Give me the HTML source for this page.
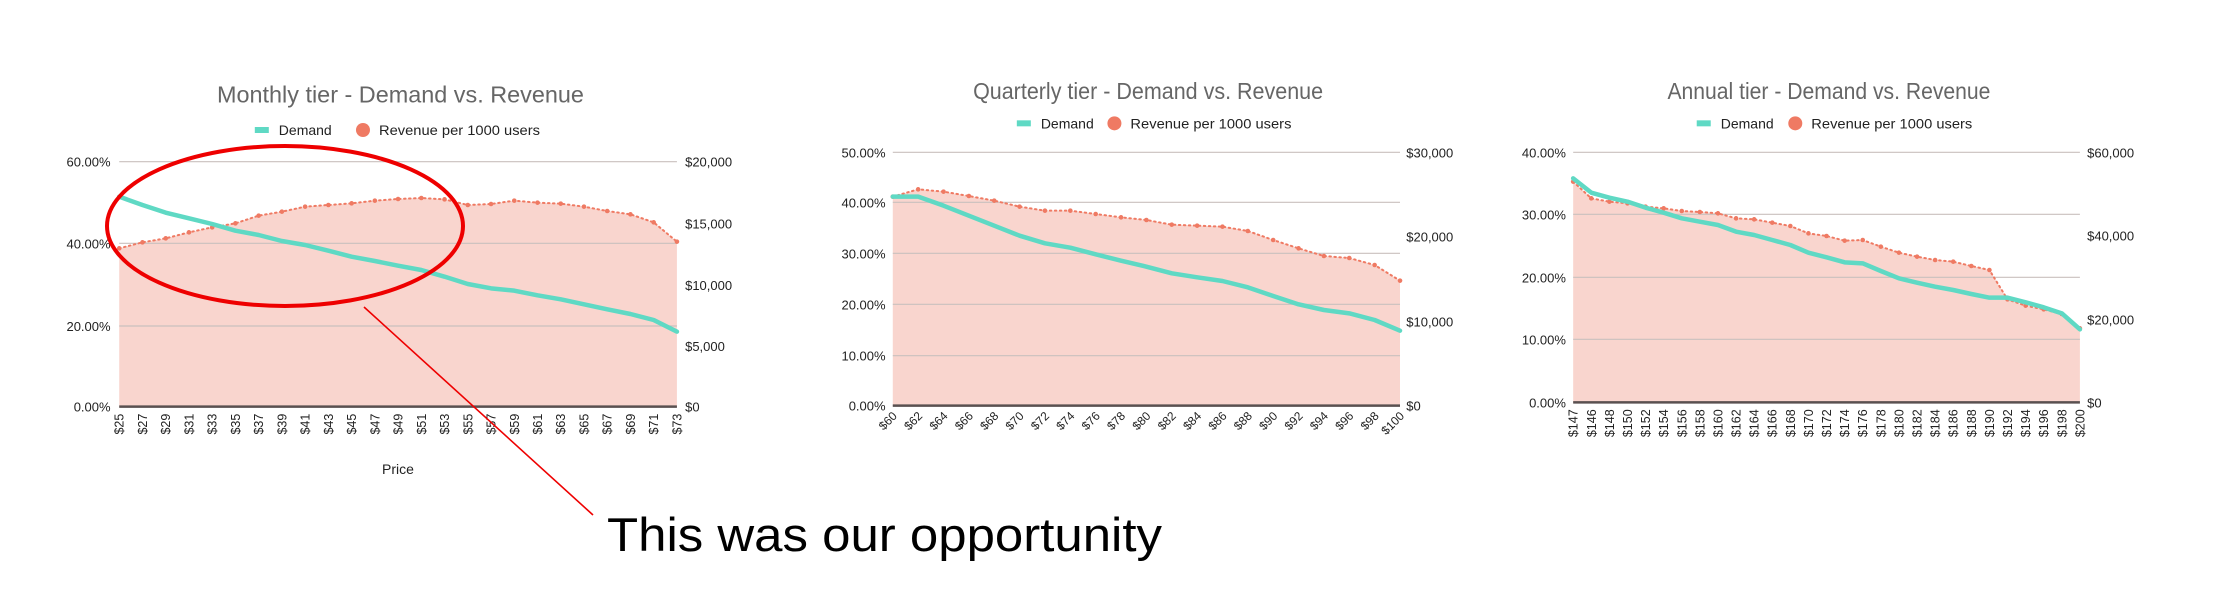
<!DOCTYPE html>
<html><head><meta charset="utf-8"><style>
html,body{margin:0;padding:0;background:#fff;}
svg{display:block;font-family:"Liberation Sans",sans-serif;}
</style></head><body>
<svg id="s" width="2240" height="614" viewBox="0 0 2240 614" xmlns="http://www.w3.org/2000/svg">
<text x="607" y="551" font-size="47" fill="#000" textLength="555" lengthAdjust="spacingAndGlyphs">This was our opportunity</text>
</svg>
<script>
var NS="http://www.w3.org/2000/svg",S=document.getElementById('s');
function el(t,a,txt){var e=document.createElementNS(NS,t);for(var k in a)e.setAttribute(k,a[k]);if(txt!==undefined)e.textContent=txt;S.appendChild(e);return e;}
function chart(c){
  var ox=c.ox,oy=60,X=function(zx){return ox+zx/2.08;},Y=function(zy){return oy+zy/3;};
  var L=X(c.zl),R=X(c.zr),n=c.labels.length;
  var xs=[];for(var i=0;i<n;i++)xs.push(L+(R-L)*i/(n-1));
  // fill
  var d='M'+L+','+Y(c.zb);for(i=0;i<n;i++)d+=' L'+xs[i]+','+Y(c.rev[i]);d+=' L'+R+','+Y(c.zb)+' Z';
  el('path',{d:d,fill:'#f9d5ce'});
  // grid
  c.grid.forEach(function(g){el('line',{x1:L,x2:R,y1:Y(g[0]),y2:Y(g[0]),stroke:'#c9c0be','stroke-width':1.2});
    el('text',{x:X(c.zll),y:Y(g[0])+5,'font-size':13,fill:'#222','text-anchor':'end'},g[1]);});
  c.rgrid.forEach(function(g){el('text',{x:X(c.zrl),y:Y(g[0])+5,'font-size':13,fill:'#222'},g[1]);});
  el('line',{x1:L,x2:R,y1:Y(c.zb),y2:Y(c.zb),stroke:'#5a5050','stroke-width':2.5});
  // revenue dotted
  var p='';for(i=0;i<n;i++)p+=(i?' L':'M')+xs[i]+','+Y(c.rev[i]);
  el('path',{d:p,fill:'none',stroke:'#ef7a63','stroke-width':2,'stroke-dasharray':'1.5 3.5','stroke-linecap':'round'});
  for(i=0;i<n;i++)el('circle',{cx:xs[i],cy:Y(c.rev[i]),r:2.3,fill:'#ef7a63'});
  // demand
  p='';for(i=0;i<n;i++)p+=(i?' L':'M')+xs[i]+','+Y(c.dem[i]);
  el('path',{d:p,fill:'none',stroke:'#5fd9c4','stroke-width':4.5,'stroke-linejoin':'round','stroke-linecap':'round'});
  // x labels
  var ly=Y(c.zb)+7;
  for(i=0;i<n;i++){
    if(c.diag) el('text',{x:xs[i]+5,y:ly+4,'font-size':12,fill:'#222','text-anchor':'end',transform:'rotate(-45 '+(xs[i]+5)+' '+(ly+4)+')'},c.labels[i]);
    else el('text',{x:xs[i]+4.5,y:ly,'font-size':12.5,fill:'#222','text-anchor':'end',transform:'rotate(-90 '+(xs[i]+4.5)+' '+ly+')'},c.labels[i]);
  }
  // title & legend
  el('text',{x:X(c.tx),y:Y(c.ty)+9,'font-size':23,fill:'#666','text-anchor':'middle',textLength:c.tw,lengthAdjust:'spacingAndGlyphs'},c.title);
  var lgy=Y(c.lgy);
  el('rect',{x:X(c.sw),y:lgy-3,width:14,height:6,fill:'#5fd9c4'});
  el('text',{x:X(c.sw)+24,y:lgy+5,'font-size':14,fill:'#222'},'Demand');
  el('circle',{cx:X(c.dot),cy:lgy,r:7,fill:'#ef7a63'});
  el('text',{x:X(c.dot)+16,y:lgy+5,'font-size':14,fill:'#222',textLength:161,lengthAdjust:'spacingAndGlyphs'},'Revenue per 1000 users');
}
function range(a,b,s){var r=[];for(var v=a;v<=b;v+=s)r.push('$'+v);return r;}
chart({ox:0,zl:248,zr:1408,zb:1040,zll:230,zrl:1425,title:'Monthly tier - Demand vs. Revenue',tx:833,ty:100,tw:367,lgy:210,sw:530,dot:755,
 labels:range(25,73,2),
 grid:[[305,'60.00%'],[550,'40.00%'],[798,'20.00%'],[1040,'0.00%']],
 rgrid:[[305,'$20,000'],[490,'$15,000'],[675,'$10,000'],[858,'$5,000'],[1040,'$0']],
 dem:[410,435,458,475,492,512,525,543,555,572,590,603,617,630,650,672,685,692,706,718,733,748,762,780,815],
 rev:[565,547,535,517,502,490,467,455,440,435,430,422,417,414,418,435,432,422,428,431,440,453,463,487,545]});
chart({ox:750,zl:297,zr:1352,zb:1037,zll:282,zrl:1365,title:'Quarterly tier - Demand vs. Revenue',tx:828,ty:90,tw:350,lgy:190,sw:555,dot:758,diag:true,
 labels:range(60,100,2),
 grid:[[277,'50.00%'],[427,'40.00%'],[580,'30.00%'],[733,'20.00%'],[887,'10.00%'],[1037,'0.00%']],
 rgrid:[[277,'$30,000'],[530,'$20,000'],[785,'$10,000'],[1037,'$0']],
 dem:[410,410,437,467,497,527,550,563,583,602,620,640,652,663,682,708,733,750,760,780,812],
 rev:[410,388,395,408,422,440,452,452,462,472,480,494,497,500,513,540,565,588,594,615,662]});
var l3=['$147','$146'];for(var v=148;v<=200;v+=2)l3.push('$'+v);
chart({ox:1490,zl:173,zr:1227,zb:1027,zll:158,zrl:1242,title:'Annual tier - Demand vs. Revenue',tx:705,ty:90,tw:323,lgy:190,sw:430,dot:635,
 labels:l3,
 grid:[[277,'40.00%'],[463,'30.00%'],[652,'20.00%'],[838,'10.00%'],[1027,'0.00%']],
 rgrid:[[277,'$60,000'],[527,'$40,000'],[778,'$20,000'],[1027,'$0']],
 dem:[355,398,413,425,443,458,475,485,495,515,525,540,555,578,592,607,610,633,655,668,680,690,702,713,713,727,742,760,808],
 rev:[365,415,425,430,440,445,453,456,460,475,478,488,498,520,528,542,540,560,578,590,600,605,618,630,718,737,748,762,805]});
el('text',{x:398,y:474,'font-size':14,fill:'#222','text-anchor':'middle'},'Price');
el('ellipse',{cx:285,cy:226,rx:178,ry:80,fill:'none',stroke:'#ee0000','stroke-width':4});
el('line',{x1:364,y1:307,x2:593,y2:515,stroke:'#ee0000','stroke-width':1.6});
</script>
</body></html>
